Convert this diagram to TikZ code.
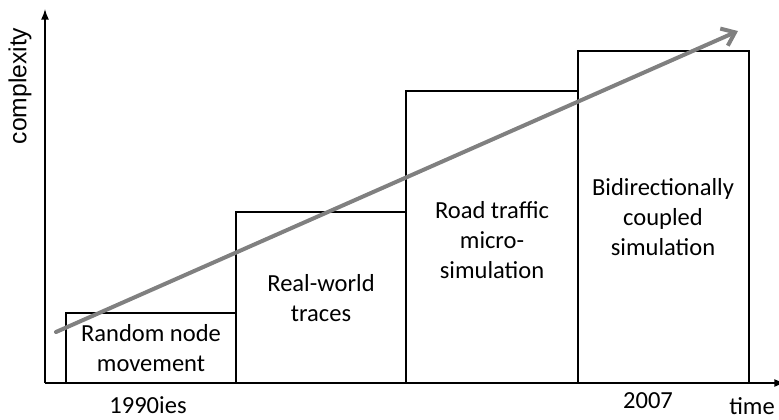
\documentclass[tikz,border=0pt]{standalone}
\usepackage{fontspec}
\setmainfont{Carlito}
\newfontfamily\axisfont{Liberation Sans}
\usetikzlibrary{arrows.meta}
\tikzset{
	era/.style={draw=black, line width=1.5pt},
	lbl/.style={align=center, font=\fontsize{18.4}{22.2}\selectfont, inner sep=0pt}
}
\begin{document}
\begin{tikzpicture}[x=0.75pt, y=-0.75pt, line join=miter]
	\useasboundingbox (0,0) rectangle (779,419);
	\coordinate (O)  at (45,383);
	\coordinate (Y)  at (45,9);
	\coordinate (X)  at (785,383);
	\coordinate (S)  at (56,332);
	\coordinate (E)  at (738,31);
	% axes
	\draw[line width=1.1pt, -{Latex[length=8pt,width=6pt]}] (O) -- (Y);
	\draw[line width=1.1pt, -{Latex[length=8pt,width=6pt]}] (O) -- (X);
	% boxes
	\draw[era] (66,383) rectangle (236,313);
	\draw[era] (236,383) rectangle (406,212);
	\draw[era] (406,383) rectangle (578,91);
	\draw[era] (578,383) rectangle (749,51);
	% trend
	\draw[line width=3pt, color=gray, line cap=round, -{Straight Barb[length=9pt,width=14pt,line width=3pt]}] (S) -- (E);
	\node[lbl] (rand) at (151,348) {Random node\\movement};
	\node[lbl] (real) at (321,298) {Real-world\\traces};
	\node[lbl] (road) at (492,240) {Road traffic\\micro-\\simulation};
	\node[lbl] (bidi) at (663,217) {Bidirectionally\\coupled\\simulation};
	\node[inner sep=0pt, rotate=90, font=\axisfont\fontsize{18.5}{22}\selectfont] (cplx) at (20,86) {complexity};
	\node[lbl] (y1990) at (148,405) {1990ies};
	\node[lbl] (y2007) at (648,401) {2007};
	\node[lbl] (time) at (752,406) {time};
\end{tikzpicture}
\end{document}
